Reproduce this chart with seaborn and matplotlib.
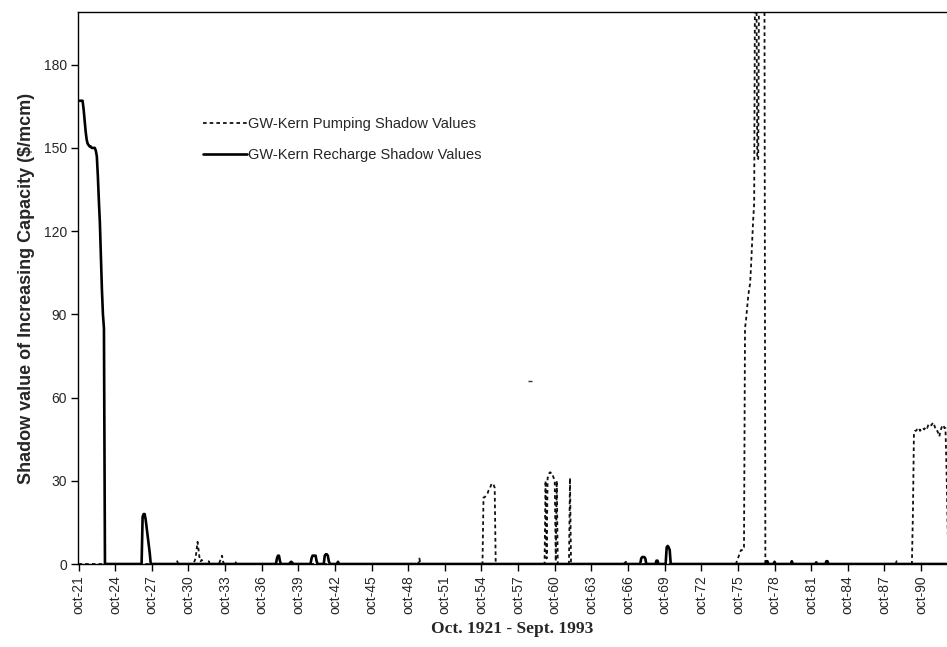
import numpy as np
import pandas as pd
import seaborn as sns
import matplotlib.pyplot as plt

# monthly series, Oct 1921 - Sept 1993 (864 months); zero outside the episodes below
n_months = 864

# recharge shadow values: (start month, values)
recharge_starts = [0, 63, 195, 208, 229, 242, 255, 553, 568, 578, 676, 684, 701, 725, 735]
recharge_values = [
    [167, 167, 167, 167, 167, 164, 160, 156, 153, 151.5, 151, 150.5, 150.5, 150, 150,
     150, 150, 149, 147, 140, 131, 123, 111, 99, 90, 85],
    [17, 18, 18, 16, 13, 10, 7, 4],
    [2, 3, 3, 1],
    [0.5, 0.8, 0.5],
    [2, 3, 3, 3, 3, 1],
    [3, 3.5, 3.5, 3, 1],
    [0.8],
    [2, 2.5, 2.5, 2.5, 2],
    [1.2, 1.2],
    [6, 6.5, 6, 5],
    [1, 1],
    [0.8],
    [1],
    [0.6],
    [1, 1],
]

# pumping shadow values: (start month, values)
pump_starts = [97, 113, 128, 139, 155, 335, 398, 459, 483, 535, 647, 804, 820]
pump_values = [
    [1],
    [0.5, 1, 2, 5, 8, 5, 2, 1, 1.5, 1],
    [1],
    [1, 2, 3, 1],
    [1],
    [2],
    [24, 24, 24.5, 25, 25.5, 26.5, 27, 28, 29, 29, 28.5, 27.5],
    [30, 2, 31, 32, 33, 33, 32, 32, 31, 30, 1, 30],
    [31],
    [0.5, 0, 0.5, 0.8],
    [1, 2, 3, 4, 5, 5, 5, 6, 85, 88, 92, 96, 99, 101, 108, 116, 124, 130,
     230, 230, 146, 146, 230, 230, 230, 230, 230, 230],
    [1],
    [18, 47, 48, 48, 48.5, 48.5, 49, 48, 48.5, 49, 49, 48.5, 49, 49.5, 49, 50,
     50.5, 50, 50, 50.5, 51, 50, 49, 48, 48, 47, 46, 48, 49, 50, 50, 49, 49, 35, 15],
]

stray_month = [444]
stray_value = [66]

tick_months = [0, 36, 72, 108, 144, 180, 216, 252, 288, 324, 360, 396, 432, 468,
               504, 540, 576, 612, 648, 684, 720, 756, 792, 828]
tick_labels = ['oct-21', 'oct-24', 'oct-27', 'oct-30', 'oct-33', 'oct-36', 'oct-39',
               'oct-42', 'oct-45', 'oct-48', 'oct-51', 'oct-54', 'oct-57', 'oct-60',
               'oct-63', 'oct-66', 'oct-69', 'oct-72', 'oct-75', 'oct-78', 'oct-81',
               'oct-84', 'oct-87', 'oct-90']
y_ticks = [0, 30, 60, 90, 120, 150, 180]


def build(starts, values):
    s = np.zeros(n_months)
    for st, v in zip(starts, values):
        s[st:st + len(v)] = v
    return s


months = np.arange(n_months)
df = pd.DataFrame({'month': months,
                   'pump': build(pump_starts, pump_values),
                   'recharge': build(recharge_starts, recharge_values)})

sns.set_theme(style="white")
plt.rcParams['font.family'] = ['Liberation Sans', 'DejaVu Sans']

fig = plt.figure(figsize=(9.47, 6.47), dpi=100)
ax = fig.add_axes([78 / 947, 83 / 647, 869 / 947, 552 / 647])

sns.lineplot(data=df, x='month', y='pump', ax=ax, color='#111111', linewidth=1.3,
             dashes=False, linestyle=(0, (2.0, 1.7)), label='GW-Kern Pumping Shadow Values')
sns.lineplot(data=df, x='month', y='recharge', ax=ax, color='black', linewidth=1.9,
             label='GW-Kern Recharge Shadow Values')
ax.plot(stray_month, stray_value, marker='_', color='#333333', markersize=3, linestyle='none')

ax.set_xlim(-0.5, 853.5)
ax.set_ylim(0, 199)
ax.set_xticks(tick_months)
ax.set_xticklabels(tick_labels, rotation=90, fontsize=10)
ax.set_yticks(y_ticks)
ax.set_yticklabels([str(v) for v in y_ticks], fontsize=10)
ax.tick_params(axis='both', direction='out', length=5, width=1, color='black', pad=3)
ax.xaxis.set_ticks_position('bottom')
ax.yaxis.set_ticks_position('left')

for side in ['left', 'bottom', 'top']:
    ax.spines[side].set_color('black')
    ax.spines[side].set_linewidth(1.0)
ax.spines['right'].set_visible(False)

ax.set_xlabel('Oct. 1921 - Sept. 1993', fontsize=12.5, fontweight='bold',
              family=['Liberation Serif', 'DejaVu Serif'], labelpad=5)
ax.set_ylabel('Shadow value of Increasing Capacity ($/mcm)', fontsize=13, fontweight='bold',
              labelpad=6)

ax.legend(loc='upper left', bbox_to_anchor=(0.1438, 0.8098), frameon=False, fontsize=10.5,
          handlelength=3.0, handletextpad=0.1, labelspacing=1.2, borderpad=0, borderaxespad=0)

plt.savefig('out.png', dpi=100)
